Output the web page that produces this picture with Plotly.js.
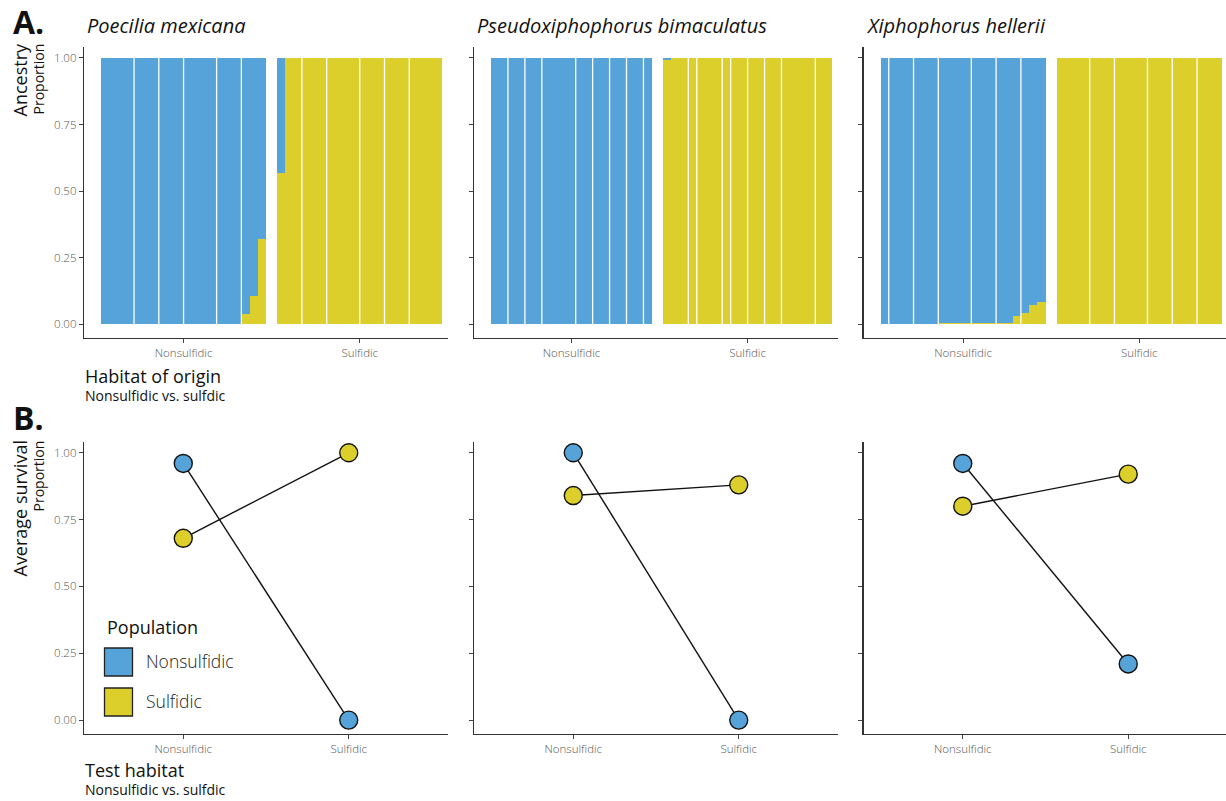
<!DOCTYPE html>
<html><head><meta charset="utf-8">
<script src="https://cdn.plot.ly/plotly-3.0.1.min.js"></script>
<style>html,body{margin:0;padding:0;background:#fff;}#chart{width:1226px;height:801px;}</style>
</head><body><div id="chart"></div>
<script>
// ---------------- DATA ----------------
const species = ["Poecilia mexicana", "Pseudoxiphophorus bimaculatus", "Xiphophorus hellerii"];
const habitats = ["Nonsulfidic", "Sulfidic"];
const populations = ["Nonsulfidic", "Sulfidic"];
const ancestryTicks = [0, 0.25, 0.5, 0.75, 1];
const ancestryTickText = ["0.00", "0.25", "0.50", "0.75", "1.00"];

// Ancestry: proportion assigned to the sulfidic cluster, per individual
const pmexNonsulfAnc = [0,0,0,0,0,0,0,0,0,0,0,0,0,0,0,0,0,0.04,0.105,0.32];
const pmexSulfAnc    = [0.57,1,1,1,1,1,1,1,1,1,1,1,1,1,1,1,1,1,1,1];
const pmexNonsulfGroups = [4,3,3,4,3,3];
const pmexSulfGroups    = [3,3,4,3,3,4];

const pbimNonsulfAnc = [0,0,0,0,0,0,0,0,0,0,0,0,0,0,0,0,0,0,0];
const pbimSulfAnc    = [0.994,1,1,1,1,1,1,1,1,1,1,1,1,1,1,1,1,1,1,1];
const pbimNonsulfGroups = [2,2,2,4,2,2,2,2,1];
const pbimSulfGroups    = [3,1,3,1,2,2,2,4,2];

const xhelNonsulfAnc = [0,0,0,0,0,0,0,0.004,0.004,0.004,0.004,0.004,0.004,0.004,0.004,0.004,0.033,0.041,0.074,0.085];
const xhelSulfAnc    = [1,1,1,1,1,1,1,1,1,1,1,1,1,1,1,1,1,1,1,1];
const xhelNonsulfGroups = [1,3,3,4,3,3,3];
const xhelSulfGroups    = [4,3,4,3,3,3];

// Average survival (proportion) in [Nonsulfidic, Sulfidic] test habitats
const pmexSurvNonsulfPop = [0.96, 0.00];
const pmexSurvSulfPop    = [0.68, 1.00];
const pbimSurvNonsulfPop = [1.00, 0.00];
const pbimSurvSulfPop    = [0.84, 0.88];
const xhelSurvNonsulfPop = [0.96, 0.21];
const xhelSurvSulfPop    = [0.80, 0.92];

// ---------------- STYLE ----------------
const BLUE = "#55A3D9", YELLOW = "#DCCF2B";
const W = 1226, H = 801;
const FONT = "Open Sans";
const X = px => px / W;
const Y = py => 1 - py / H;

const ancestry = [
  {nonsulf: pmexNonsulfAnc, sulf: pmexSulfAnc, gN: pmexNonsulfGroups, gS: pmexSulfGroups},
  {nonsulf: pbimNonsulfAnc, sulf: pbimSulfAnc, gN: pbimNonsulfGroups, gS: pbimSulfGroups},
  {nonsulf: xhelNonsulfAnc, sulf: xhelSulfAnc, gN: xhelNonsulfGroups, gS: xhelSulfGroups}
];
const survival = [
  [pmexSurvNonsulfPop, pmexSurvSulfPop],
  [pbimSurvNonsulfPop, pbimSurvSulfPop],
  [xhelSurvNonsulfPop, xhelSurvSulfPop]
];

const panelLeft = [84, 474, 863.5];
const panelW = 364;
const topPx = [46.7, 337.7];
const botPx = [441.8, 734];
const yRangeTop = [-0.0503, 1.0424];
const yRangeBot = [-0.052, 1.041];

const traces = [];
const shapes = [];
const annotations = [];
const layout = {
  width: W, height: H, margin: {l:0, r:0, t:0, b:0},
  paper_bgcolor: "#fff", plot_bgcolor: "rgba(0,0,0,0)",
  showlegend: false, barmode: "stack", bargap: 0,
  font: {family: FONT, color: "#1a1a1a"}
};

function axisBase() {
  return {
    showline: true, linecolor: "#333", linewidth: 1.2,
    ticks: "outside", ticklen: 4, tickcolor: "#444", tickwidth: 1,
    showgrid: false, zeroline: false, fixedrange: true,
    tickfont: {family: FONT, size: 11.5, color: "#555", weight: 300}
  };
}

species.forEach((sp, p) => {
  const L = panelLeft[p];
  const R = Math.min(L + panelW, W);
  const d = ancestry[p];
  const n1 = d.nonsulf.length, n2 = d.sulf.length;
  const gapPx = 11, blockStart = L + 17, blockW = 341.3;
  const u = (blockW - gapPx) / (n1 + n2);
  const g = gapPx / u;
  const xs = [];
  for (let i = 0; i < n1; i++) xs.push(i);
  for (let j = 0; j < n2; j++) xs.push(n1 + g + j);
  const anc = d.nonsulf.concat(d.sulf);
  const ax = p + 1;
  const xn = "x" + (ax === 1 ? "" : ax), yn = "y" + (ax === 1 ? "" : ax);
  traces.push({type: "bar", x: xs, y: anc, width: 1, marker: {color: YELLOW, line: {width: 0}},
    xaxis: xn, yaxis: yn, name: populations[1], hoverinfo: "skip"});
  traces.push({type: "bar", x: xs, y: anc.map(v => 1 - v), width: 1, marker: {color: BLUE, line: {width: 0}},
    xaxis: xn, yaxis: yn, name: populations[0], hoverinfo: "skip"});
  let c = 0;
  d.gN.slice(0, -1).forEach(k => { c += k; shapes.push({type:"line", xref:xn, yref:yn, x0:c-0.5, x1:c-0.5, y0:0, y1:1, line:{color:"#fff", width:1.3}, layer:"above"}); });
  c = 0;
  d.gS.slice(0, -1).forEach(k => { c += k; const xv = n1 + g + c - 0.5; shapes.push({type:"line", xref:xn, yref:yn, x0:xv, x1:xv, y0:0, y1:1, line:{color:"#fff", width:1.3}, layer:"above"}); });

  const xa = axisBase();
  xa.domain = [X(L), X(R)];
  xa.range = [(L - blockStart) / u - 0.5, (R - blockStart) / u - 0.5];
  xa.tickvals = [(n1 - 1) / 2, n1 + g + (n2 - 1) / 2];
  xa.ticktext = habitats;
  xa.anchor = yn;
  layout["xaxis" + (ax === 1 ? "" : ax)] = xa;
  const ya = axisBase();
  ya.domain = [Y(topPx[1]), Y(topPx[0])];
  ya.range = yRangeTop;
  ya.tickvals = ancestryTicks; ya.ticktext = ancestryTickText;
  ya.showticklabels = (p === 0);
  ya.anchor = xn;
  layout["yaxis" + (ax === 1 ? "" : ax)] = ya;

  // bottom panel
  const bx = p + 4;
  const bxn = "x" + bx, byn = "y" + bx;
  const s = survival[p];
  [0, 1].forEach(k => {
    traces.push({type: "scatter", mode: "lines", x: habitats, y: s[k], xaxis: bxn, yaxis: byn,
      line: {color: "#111", width: 1.4}, hoverinfo: "skip"});
  });
  [0, 1].forEach(k => {
    traces.push({type: "scatter", mode: "markers", x: habitats, y: s[k], xaxis: bxn, yaxis: byn,
      name: populations[k],
      marker: {size: 18, color: k === 0 ? BLUE : YELLOW, line: {color: "#111", width: 1.4}}, hoverinfo: "skip"});
  });
  const bxa = axisBase();
  bxa.domain = [X(L), X(R)];
  const unit = panelW / 2.2;
  bxa.type = "category";
  bxa.categoryorder = "array"; bxa.categoryarray = habitats;
  bxa.range = [-0.6, -0.6 + (R - L) / unit];
  bxa.anchor = byn;
  layout["xaxis" + bx] = bxa;
  const bya = axisBase();
  bya.domain = [Y(botPx[1]), Y(botPx[0])];
  bya.range = yRangeBot;
  bya.tickvals = ancestryTicks; bya.ticktext = ancestryTickText;
  bya.showticklabels = (p === 0);
  bya.anchor = bxn;
  layout["yaxis" + bx] = bya;

  annotations.push({xref:"paper", yref:"paper", x: X([85, 475, 864][p]), y: Y(26), xanchor:"left", yanchor:"middle",
    text: "<i>" + sp + "</i>", showarrow:false, font:{family: FONT, size: 20, color:"#111"}});
});

function txt(t, xpx, ypx, size, opts) {
  opts = opts || {};
  annotations.push(Object.assign({xref:"paper", yref:"paper", x: X(xpx), y: Y(ypx), xanchor: "left", yanchor: "middle",
    text: t, showarrow: false, font: {family: FONT, size: size, color: opts.color || "#111", weight: opts.weight || 400}}, opts.extra || {}));
}
txt("<b>A.</b>", 11, 21.5, 32);
txt("<b>B.</b>", 11, 417, 32);
txt("Ancestry", 19.5, 80, 18, {extra:{textangle:-90, xanchor:"center"}});
txt("Proportion", 37.5, 79, 14, {extra:{textangle:-90, xanchor:"center"}});
txt("Average survival", 19.5, 509, 18, {extra:{textangle:-90, xanchor:"center"}});
txt("Proportion", 37.5, 476, 14, {extra:{textangle:-90, xanchor:"center"}});
// two-line axis captions (one text block each)
txt("<span style='font-size:18px'>Habitat of origin</span><br>Nonsulfidic vs. sulfdic", 83, 407, 14, {extra:{yanchor:"bottom", align:"left"}});
txt("<span style='font-size:18px'>Test habitat</span><br>Nonsulfidic vs. sulfdic", 83, 800.5, 14, {extra:{yanchor:"bottom", align:"left"}});

// manual legend
txt("Population", 105, 627, 18);
const legendY = [662, 702];
populations.forEach((pop, k) => {
  shapes.push({type:"rect", xref:"paper", yref:"paper", x0:X(104.5), x1:X(132.5), y0:Y(legendY[k] + 14), y1:Y(legendY[k] - 14),
    fillcolor: k === 0 ? BLUE : YELLOW, line:{color:"#222", width:1.3}});
  txt(pop, 144, legendY[k] - 1.5, 17.5, {weight: 300, color: "#222"});
});

layout.shapes = shapes;
layout.annotations = annotations;
Plotly.newPlot("chart", traces, layout, {displayModeBar: false, staticPlot: true});
</script>
</body></html>
